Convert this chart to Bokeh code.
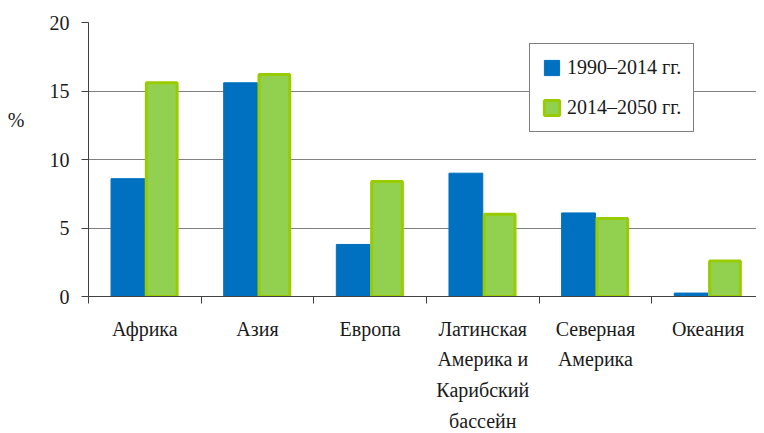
import numpy as np
from bokeh.plotting import figure
from bokeh.models import Range1d, FixedTicker, Legend, LegendItem, ColumnDataSource
from bokeh.embed import file_html
from bokeh.resources import INLINE

regions = ["Африка", "Азия", "Европа",
           "Латинская\nАмерика и\nКарибский\nбассейн",
           "Северная\nАмерика", "Океания"]
growth_1990_2014 = [8.6, 15.6, 3.8, 9.0, 6.1, 0.25]
growth_2014_2050 = [15.6, 16.2, 8.4, 6.0, 5.7, 2.6]
series_names = ["1990–2014 гг.", "2014–2050 гг."]
y_ticks = [0, 5, 10, 15, 20]
y_unit = "%"

FONT = "Liberation Serif"
TEXT = "#1a1a1a"
BLUE = "#0070C0"
GREEN_FILL = "#92D050"
GREEN_LINE = "#99CC00"

idx = np.arange(len(regions))
centers = idx + 0.5
src = ColumnDataSource(dict(
    xa=centers - 0.15,
    xb=centers + 0.15,
    a=growth_1990_2014,
    b=growth_2014_2050,
))

p = figure(frame_width=668, frame_height=274,
           x_range=Range1d(0, 5.93), y_range=Range1d(0, 20),
           output_backend="svg", toolbar_location=None,
           min_border_left=88, min_border_top=22,
           min_border_right=0, min_border_bottom=128)
p.outline_line_color = None

r1 = p.vbar(x="xa", top="a", width=0.3, source=src,
            fill_color=BLUE, line_color=BLUE, line_width=1)
r2 = p.vbar(x="xb", top="b", width=0.273, source=src,
            fill_color=GREEN_FILL, line_color=GREEN_LINE, line_width=3)

# x axis
p.xaxis.ticker = FixedTicker(ticks=list(centers), minor_ticks=list(range(len(regions) + 1)))
p.xaxis.major_label_overrides = {float(c): r for c, r in zip(centers, regions)}
p.xaxis.major_tick_line_color = None
p.xaxis.major_tick_out = 0
p.xaxis.major_tick_in = 0
p.xaxis.minor_tick_in = 0
p.xaxis.minor_tick_out = 7
p.xaxis.minor_tick_line_color = "#404040"
p.xaxis.axis_line_color = "#404040"
p.xaxis.major_label_text_font = FONT
p.xaxis.major_label_text_font_size = "20px"
p.xaxis.major_label_text_color = TEXT
p.xaxis.major_label_text_line_height = 1.4
p.xaxis.major_label_standoff = 14
p.xgrid.visible = False

# y axis
p.yaxis.ticker = FixedTicker(ticks=y_ticks)
p.yaxis.minor_tick_line_color = None
p.yaxis.major_tick_in = 0
p.yaxis.major_tick_out = 7
p.yaxis.major_tick_line_color = "#404040"
p.yaxis.axis_line_color = "#404040"
p.yaxis.major_label_text_font = FONT
p.yaxis.major_label_text_font_size = "20px"
p.yaxis.major_label_text_color = TEXT
p.yaxis.major_label_standoff = 12
p.yaxis.axis_label = y_unit + "\n\n\n"
p.yaxis.axis_label_orientation = "horizontal"
p.yaxis.axis_label_text_font = FONT
p.yaxis.axis_label_text_font_style = "normal"
p.yaxis.axis_label_text_font_size = "20px"
p.yaxis.axis_label_text_color = TEXT
p.yaxis.axis_label_standoff = 22
p.ygrid.ticker = FixedTicker(ticks=y_ticks)
p.ygrid.grid_line_color = "#808080"

legend = Legend(items=[LegendItem(label=series_names[0], renderers=[r1]),
                       LegendItem(label=series_names[1], renderers=[r2])],
                location=(441, 164))
legend.label_text_font = FONT
legend.label_text_font_size = "20px"
legend.label_text_color = TEXT
legend.border_line_color = "black"
legend.border_line_width = 1
legend.background_fill_color = "white"
legend.background_fill_alpha = 1
legend.padding = 12
legend.margin = 0
legend.spacing = 17
legend.glyph_height = 19
legend.glyph_width = 19
legend.label_height = 19
legend.label_standoff = 6
p.add_layout(legend)

open("out.html", "w").write(file_html(p, INLINE))
